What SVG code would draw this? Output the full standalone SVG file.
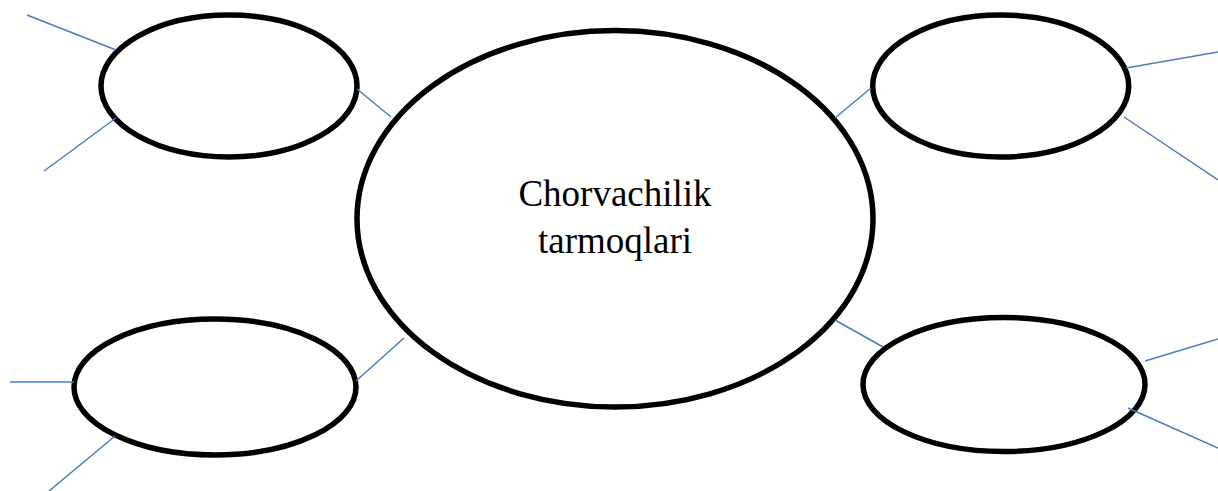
<svg xmlns="http://www.w3.org/2000/svg" width="1218" height="491" viewBox="0 0 1218 491">
<style>
.node{fill:#fff;stroke:#000;stroke-width:5.5}
.c line{stroke:#4A7EBB;stroke-width:1.5}
.t{font-family:"Liberation Serif","Times New Roman",serif;font-size:37px;fill:#000;text-anchor:middle}
</style>
<rect width="1218" height="491" fill="#fff"/>
<g id="center"><ellipse class="node" cx="615" cy="218.8" rx="258" ry="188.2"/>
<text class="t" x="615" y="205.5">Chorvachilik</text>
<text class="t" x="615" y="252.5">tarmoqlari</text></g>
<g id="n-tl"><ellipse class="node" cx="229" cy="86" rx="128" ry="71"/></g>
<g id="n-tr"><ellipse class="node" cx="1000.7" cy="86" rx="128" ry="71"/></g>
<g id="n-bl"><ellipse class="node" cx="215" cy="387" rx="141" ry="68"/></g>
<g id="n-br"><ellipse class="node" cx="1004" cy="384.5" rx="141" ry="67"/></g>
<g class="c" id="connectors">
<line x1="27" y1="15" x2="116" y2="50"/>
<line x1="44" y1="171" x2="116" y2="118"/>
<line x1="357" y1="89" x2="391" y2="117"/>
<line x1="871" y1="88" x2="835" y2="118"/>
<line x1="1126" y1="68" x2="1218" y2="52"/>
<line x1="1124" y1="117" x2="1218" y2="180"/>
<line x1="10" y1="382" x2="74" y2="382"/>
<line x1="49" y1="491" x2="115" y2="436"/>
<line x1="356" y1="381" x2="404" y2="338"/>
<line x1="835" y1="320" x2="883" y2="347"/>
<line x1="1145" y1="361" x2="1218" y2="339"/>
<line x1="1128" y1="408" x2="1218" y2="448"/>
</g>
</svg>
